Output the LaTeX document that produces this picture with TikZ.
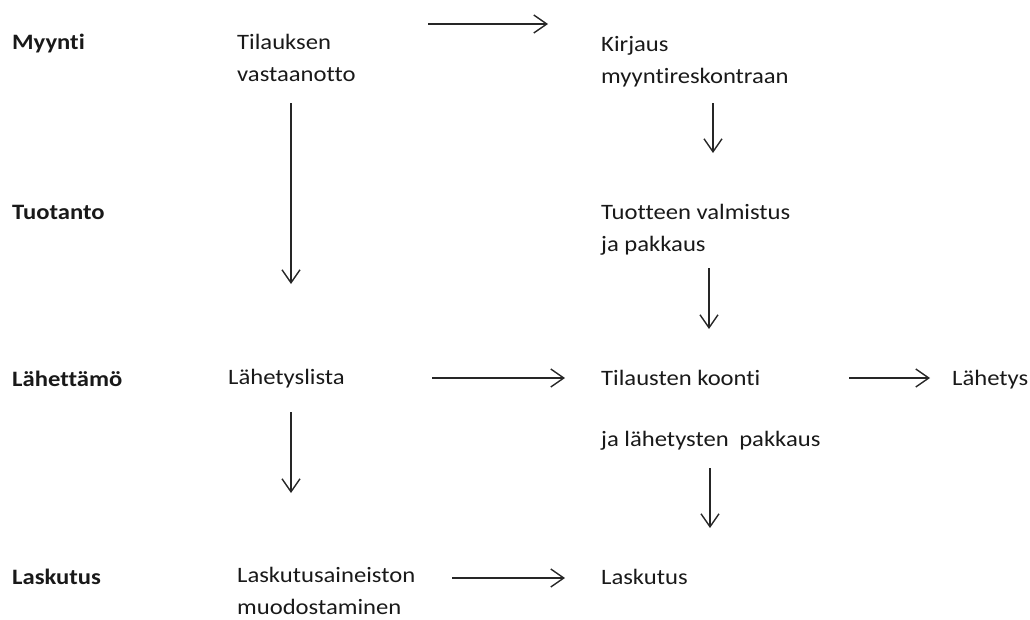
\documentclass[tikz,border=0pt]{standalone}
\usepackage{fontspec}
\setmainfont{Carlito}[FakeStretch=1.12, Ligatures=NoCommon]
\usetikzlibrary{arrows.meta}

\begin{document}
\begin{tikzpicture}[x=1pt, y=-1pt,
  every node/.style={anchor=base west, inner sep=0pt, align=left,
    font=\fontsize{22}{32}\selectfont, text=black!90},
  head/.style={font=\fontsize{22}{32}\selectfont\bfseries},
  arr/.style={-{Straight Barb[length=13pt,width=18pt]}, line width=1.4pt, draw=black!85}]
\useasboundingbox (0,0) rectangle (1030,619);

% department labels
\node[head] (myynti) at (12,49) {Myynti};
\node[head] (tuotanto) at (12,219) {Tuotanto};
\node[head] (lahettamo) at (12,386) {Lähettämö};
\node[head] (laskutusosa) at (12,584) {Laskutus};

% steps (two-line nodes sit on their last line)
\node (tilaus) at (237,81) {Tilauksen\\vastaanotto};
\node (kirjaus) at (601,83) {Kirjaus\\myyntireskontraan};
\node (valmistus) at (601,251) {Tuotteen valmistus\\ja pakkaus};
\node (lista) at (228,384) {Lähetyslista};
\node (koonti) at (601,385) {Tilausten koonti};
\node (pakkaus) at (601,446) {ja lähetysten\hspace{5pt} pakkaus};
\node (lahetys) at (952,385) {Lähetys};
\node (aineisto) at (237,614) {Laskutusaineiston\\muodostaminen};
\node (laskutus) at (601,584) {Laskutus};

% arrows
\draw[arr] ([shift={(191,-57)}]tilaus.base west) -- ([shift={(-53,-59)}]kirjaus.base west);
\draw[arr] ([shift={(112,20)}]kirjaus.base west) -- ([shift={(112,-98)}]valmistus.base west);
\draw[arr] ([shift={(54,22)}]tilaus.base west) -- ([shift={(63,-100)}]lista.base west);
\draw[arr] ([shift={(108,17)}]valmistus.base west) -- ([shift={(108,-56)}]koonti.base west);
\draw[arr] ([shift={(204,-6)}]lista.base west) -- ([shift={(-36,-7)}]koonti.base west);
\draw[arr] ([shift={(248,-7)}]koonti.base west) -- ([shift={(-22,-7)}]lahetys.base west);
\draw[arr] ([shift={(63,28)}]lista.base west) -- ([shift={(54,-121)}]aineisto.base west);
\draw[arr] ([shift={(109,22)}]pakkaus.base west) -- ([shift={(109,-56)}]laskutus.base west);
\draw[arr] ([shift={(215,-36)}]aineisto.base west) -- ([shift={(-36,-6)}]laskutus.base west);
\end{tikzpicture}
\end{document}
